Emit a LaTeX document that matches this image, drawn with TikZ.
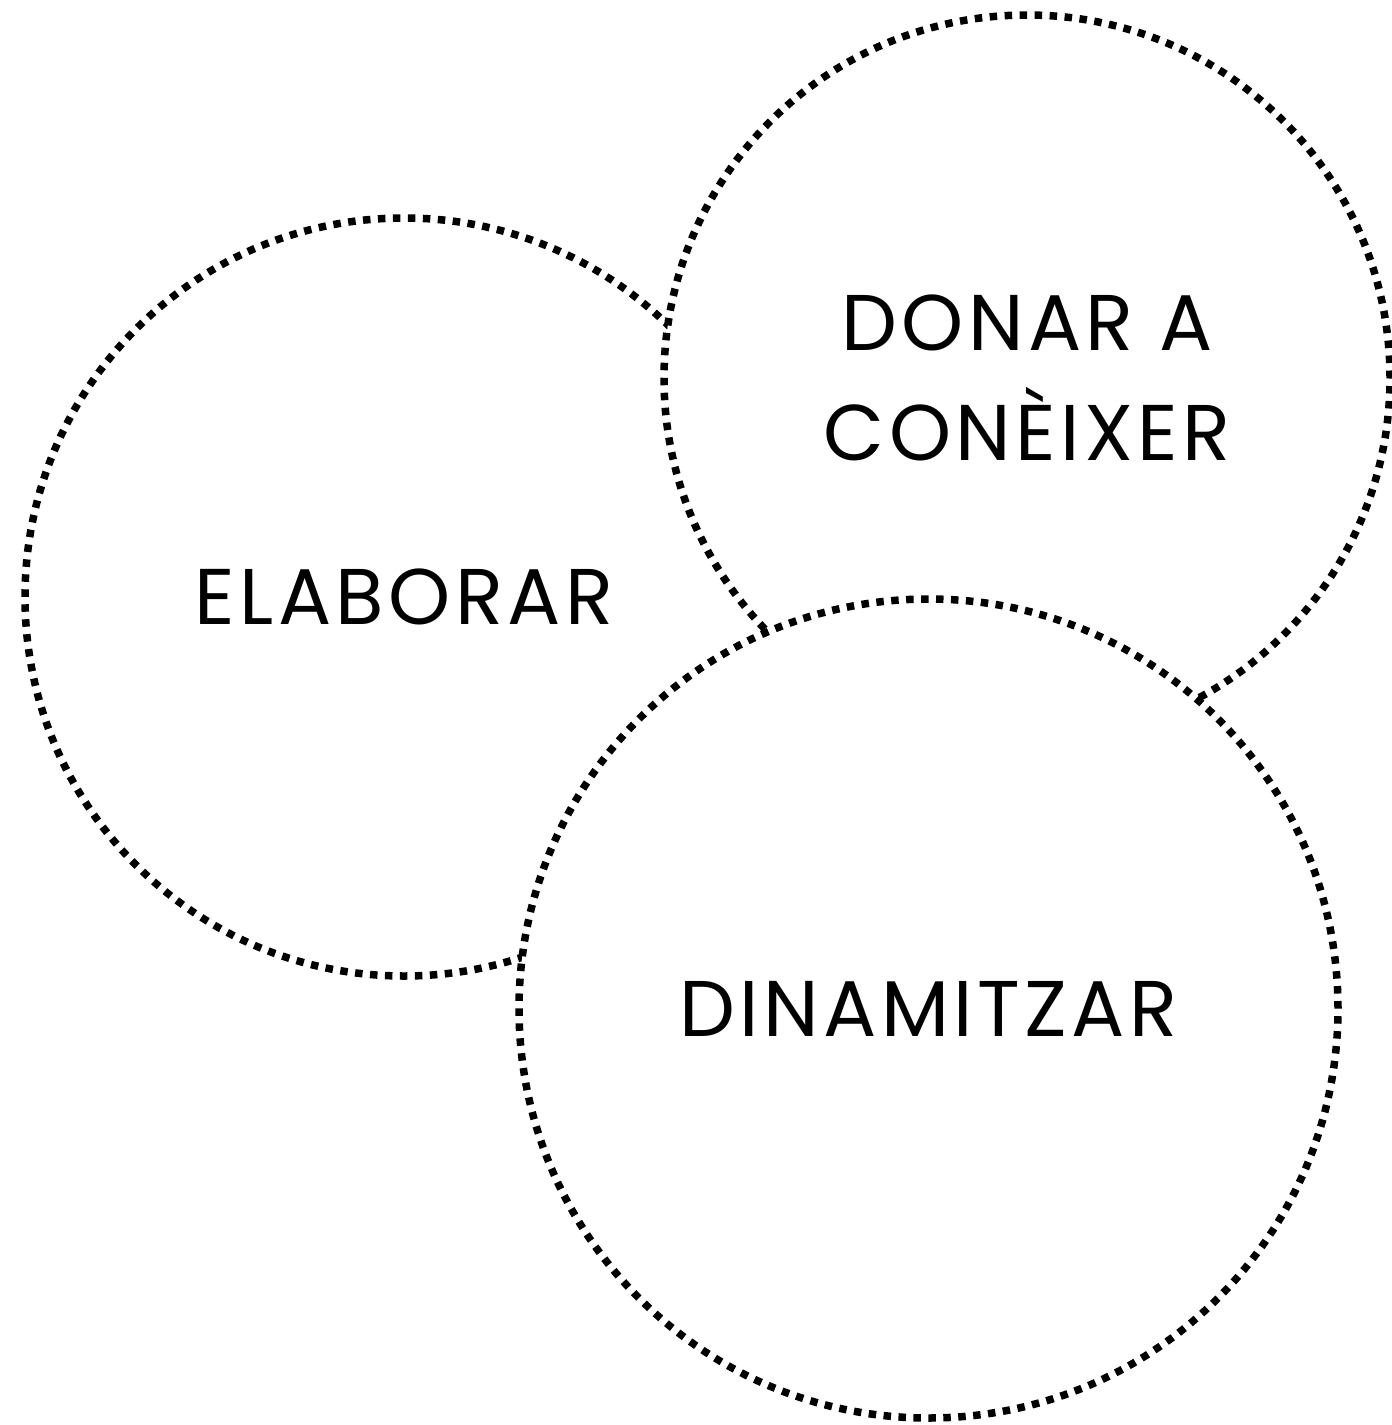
\documentclass[tikz,border=0pt]{standalone}
\usepackage{fontspec}
\setmainfont{Poppins}[LetterSpace=5.5]
\begin{document}
\begin{tikzpicture}[x=0.5pt,y=-0.5pt,
  bubble/.style={circle, draw=black, fill=white, line width=3.75pt, inner sep=0pt,
    align=center, font=\fontsize{39.5}{55}\selectfont},
  dots/.style={dash pattern=on #1 off #1}]
\useasboundingbox (0,0) rectangle (1392,1425);
\node[bubble, minimum size=379pt, dots=3.744pt] (elab) at (404,597) {ELABORAR};
\node[bubble, minimum size=363pt, dots=3.751pt] (donar) at (1027,378) {DONAR A\\CONÈIXER};
\node[bubble, minimum size=409.5pt, dots=3.740pt] (dina) at (928.5,1008.5) {DINAMITZAR};
\end{tikzpicture}
\end{document}
